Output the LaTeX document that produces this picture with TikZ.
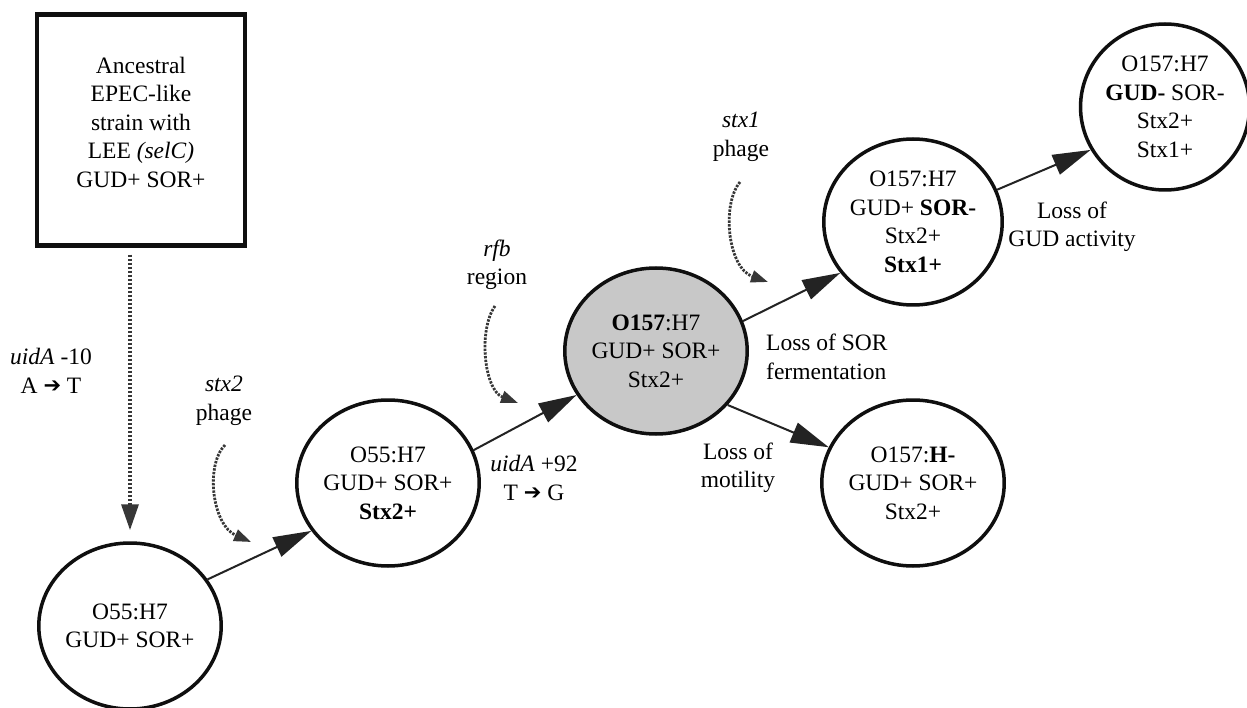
\documentclass[tikz,border=0pt]{standalone}
\usepackage{fontspec}
\setmainfont{Liberation Serif}
\newfontfamily\symfont{DejaVu Sans}
\usetikzlibrary{arrows.meta,shapes.geometric}
\definecolor{ink}{RGB}{15,15,15}
\definecolor{wire}{RGB}{35,35,35}
\definecolor{dots}{RGB}{55,55,55}
\definecolor{shade}{RGB}{200,200,200}
% heavy right arrow used in the point-mutation labels
\newcommand{\harr}{{\symfont\fontsize{21}{21}\selectfont\raisebox{1pt}{➔}}}
\begin{document}
\begin{tikzpicture}[x=1pt,y=-1pt,
  txt/.style={font=\fontsize{23.5}{28.5}\selectfont, align=center, inner sep=0pt},
  strain/.style={ellipse, draw=ink, line width=3.5pt, minimum width=162pt,
    minimum height=166pt, inner sep=0pt, fill=white, txt},
  ancbox/.style={draw=ink, line width=4.5pt, minimum width=208pt, minimum height=231pt},
  link/.style={draw=wire, line width=2pt, -{Triangle[length=38pt,width=21pt]}},
  gain/.style={draw=dots, line width=2.8pt, dash pattern=on 2.4pt off 1.3pt,
    -{Triangle[length=17pt,width=12pt]}},
]
\fill[white] (0,0) rectangle (1247,708);
\useasboundingbox (0,0) rectangle (1247,708);

% ancestral strain
\node[ancbox] (anc) at (141,130) {};
\node[txt] (anctxt) at (141,122) {Ancestral\\EPEC-like\\strain with\\LEE \textit{(selC)}\\GUD+ SOR+};

% strains along the lineage
\node[strain] (s1) at (130,626) {O55:H7\\GUD+ SOR+};
\node[strain] (s2) at (388,483) {O55:H7\\GUD+ SOR+\\\textbf{Stx2+}};
\node[strain, fill=shade] (s3) at (656,351) {\textbf{O157}:H7\\GUD+ SOR+\\Stx2+};
\node[strain] (s4) at (913,222) {O157:H7\\GUD+ \textbf{SOR-}\\Stx2+\\\textbf{Stx1+}};
\node[strain] (s5) at (1165,107) {O157:H7\\\textbf{GUD-} SOR-\\Stx2+\\Stx1+};
\node[strain] (s6) at (913,483) {O157:\textbf{H-}\\GUD+ SOR+\\Stx2+};

% lineage steps
\draw[link] (s1.31) -- (s2.212);
\draw[link] (s2.21) -- (s3.209);
\draw[link] (s3.19) -- (s4.215);
\draw[link] (s3.-37) -- (s6.157);
\draw[link] (s4.21) -- (s5.210);

% acquisition events
\draw[gain, line width=3.4pt, dash pattern=on 2.6pt off 1.4pt,
  -{Triangle[length=26pt,width=17pt]}, shorten <=7pt, shorten >=11pt]
  (s1.north |- anc.south) -- (s1.north);
\coordinate (p2a) at (225,445);
\coordinate (p2b) at (251,542);
\draw[gain] (p2a) .. controls (205,465) and (212,525) .. (p2b);
\coordinate (p3a) at (495,306);
\coordinate (p3b) at (518,403);
\draw[gain] (p3a) .. controls (478,330) and (484,390) .. (p3b);
\coordinate (p5a) at (740,182);
\coordinate (p5b) at (768,282);
\draw[gain] (p5a) .. controls (721,205) and (728,268) .. (p5b);

% event labels
\node[txt] (l1) at (51,371) {\textit{uidA} -10\\A \harr{} T};
\node[txt] (l2) at (224,401) {\textit{stx2}\\phage};
\node[txt] (l3) at (497,265) {\textit{rfb}\\region};
\node[txt] (l4) at (534,478) {\textit{uidA} +92\\T \harr{} G};
\node[txt] (l5) at (741,137) {\textit{stx1}\\phage};
\node[txt, anchor=west, align=left] (l6) at (766,357) {Loss of SOR\\fermentation};
\node[txt] (l7) at (738,468) {Loss of\\motility};
\node[txt] (l8) at (1072,227) {Loss of\\GUD activity};
\end{tikzpicture}
\end{document}
